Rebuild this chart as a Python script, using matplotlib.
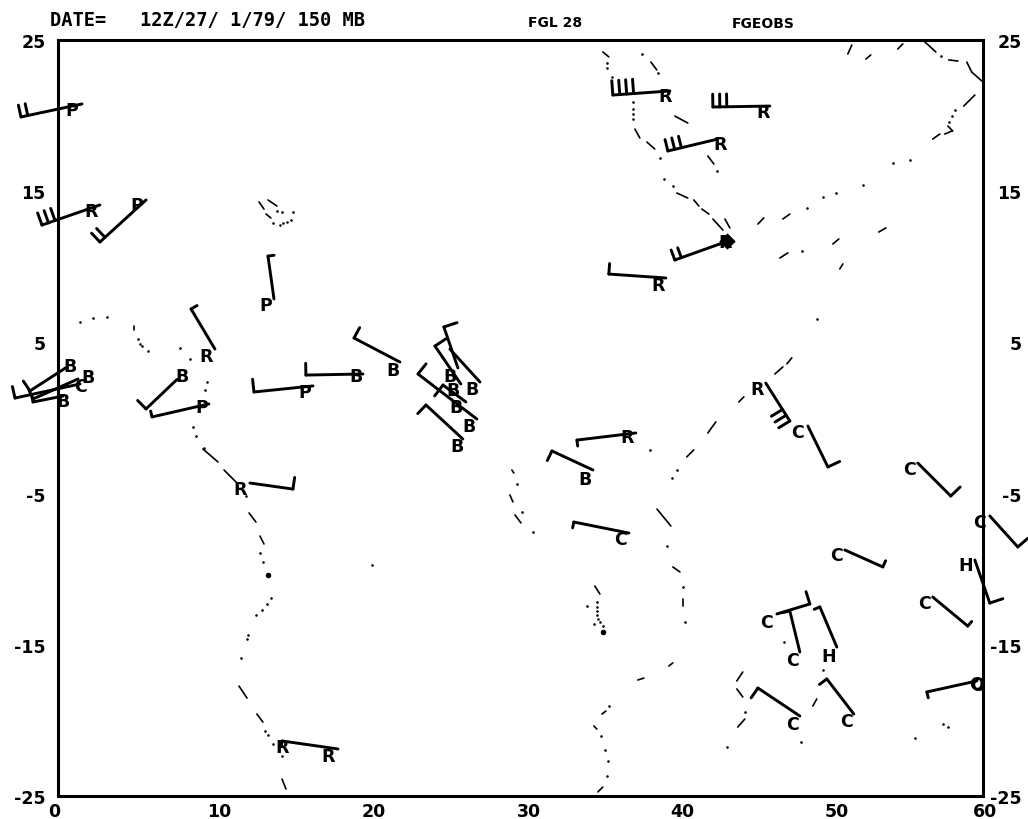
import matplotlib
matplotlib.use("Agg")
import matplotlib.pyplot as plt
import numpy as np
from matplotlib.transforms import ScaledTranslation

plt.rcParams["axes.unicode_minus"] = False

# Axis ticks
x_ticks = [0, 10, 20, 30, 40, 50, 60]
y_ticks = [25, 15, 5, -5, -15, -25]

# Wind observations: plotted end of shaft, far (feathered) end of shaft
tip_lon = [1.56, 2.72, 5.71, 14.01, 10.18, 7.72, 9.79, 16.54, 19.78, 22.18, 12.45,
           27.37, 25.94, 26.13, 26.46, 27.17, 26.26,
           37.48, 34.70, 37.03, 39.43, 43.64, 42.80, 39.69, 46.17, 45.91, 48.64,
           55.77, 60.44, 51.04, 59.47, 56.74, 46.63, 48.12, 50.52, 48.12, 51.62,
           59.60, 18.16, 0.58, 1.30, 1.43, 0.32]
tip_lat = [20.77, 14.09, 14.42, 7.87, 4.56, 2.55, 0.93, 2.12, 2.91, 3.70, -4.30,
           2.38, 3.31, 2.25, 1.06, -0.07, -1.39,
           -0.99, -3.44, -7.61, 9.26, 11.77, 18.45, 21.63, 20.63, 2.31, -0.53,
           -2.98, -6.48, -8.73, -9.39, -11.84, -12.96, -15.48, -15.15, -19.71, -19.58,
           -17.39, -21.89, 3.37, 2.58, 2.25, 1.45]
tail_lon = [-2.40, -1.04, 2.72, 13.62, 8.63, 5.71, 6.10, 12.71, 16.08, 19.20, 15.24,
            25.42, 25.03, 24.45, 24.97, 23.35, 23.87,
            33.66, 32.04, 33.46, 35.73, 40.01, 39.56, 35.99, 42.48, 47.47, 49.94,
            57.91, 62.26, 53.50, 60.44, 59.01, 48.77, 47.47, 49.42, 45.40, 49.87,
            56.36, 14.53, -1.82, -1.62, -2.79, -1.62]
tail_lat = [19.91, 12.76, 11.64, 10.71, 7.21, 0.60, 0.07, 1.72, 2.84, 5.29, -4.70,
            4.56, 6.02, 4.76, 2.18, 2.91, 0.86,
            -1.46, -2.18, -6.88, 9.52, 10.45, 17.66, 21.36, 20.57, -0.20, -3.24,
            -5.16, -8.53, -9.85, -12.24, -13.76, -12.30, -12.76, -12.50, -17.86, -17.26,
            -18.12, -21.36, 1.79, 1.26, 1.32, 1.06]
# Feathers on each shaft
feather_count = [2, 3, 2, 1, 1, 1, 1, 1, 1, 1, 1,
                 0, 1, 1, 1, 1, 1,
                 1, 1, 1, 1, 2, 3, 4, 3, 3, 1,
                 1, 1, 1, 1, 1, 1, 1, 1, 1, 1,
                 1, 1, 1, 1, 1, 1]
feather_side = [1, 1, 1, 1, 1, 1, 1, 1, 1, 1, -1,
                1, 1, 1, -1, 1, -1,
                -1, -1, -1, 1, 1, 1, 1, 1, 1, -1,
                -1, -1, -1, -1, -1, -1, -1, -1, -1, -1,
                -1, -1, 1, 1, 1, 1]
feather_len = [0.80, 0.85, 0.80, 0.40, 0.45, 0.78, 0.40, 0.85, 0.78, 0.78, 0.78,
               0.0, 0.90, 0.85, 0.90, 0.85, 0.78,
               0.40, 0.70, 0.40, 0.70, 0.70, 0.78, 0.95, 0.85, 0.85, 0.85,
               0.85, 0.85, 0.45, 0.90, 0.40, 0.85, 0.45, 0.40, 0.78, 0.60,
               0.40, 0.30, 0.78, 0.65, 0.78, 0.50]

# Station type letters
station_code = ["P", "R", "P", "P", "R", "B", "P", "P", "B", "B", "R",
                "B", "B", "B", "B", "B", "B",
                "R", "B", "C", "R", "R", "R", "R", "R", "R", "C",
                "C", "C", "C", "H", "C", "C", "C", "H", "C", "C",
                "C", "R", "B", "B", "C", "B"]
code_lon = [0.91, 2.14, 5.12, 13.49, 9.60, 8.04, 9.34, 16.02, 19.33, 21.73, 11.80,
            26.85, 25.42, 25.62, 25.81, 26.65, 25.88,
            36.90, 34.18, 36.51, 38.91, 43.26, 42.93, 39.36, 45.72, 45.33, 47.99,
            55.25, 59.79, 50.52, 58.88, 56.23, 45.98, 47.67, 50.00, 47.67, 51.17,
            59.60, 17.53, 0.78, 1.95, 1.43, 0.32]
code_lat = [20.37, 13.69, 14.09, 7.47, 4.10, 2.81, 0.73, 1.72, 2.78, 3.17, -4.70,
            1.92, 2.78, 1.85, 0.73, -0.53, -1.85,
            -1.26, -4.03, -8.00, 8.80, 11.64, 18.12, 21.30, 20.24, 1.92, -0.92,
            -3.37, -6.88, -9.06, -9.72, -12.24, -13.49, -16.00, -15.74, -20.24, -20.04,
            -17.66, -22.36, 3.44, 2.71, 2.12, 1.12]
extra_code = ["R", "O"]
extra_lon = [14.53, 59.60]
extra_lat = [-21.76, -17.60]

# Coastline: isolated dots
dot_lon = [1.43, 2.27, 3.18, 5.19, 5.32, 5.45, 5.84, 7.91, 8.56, 9.66, 9.53, 8.75, 8.95, 9.47,
           12.19, 13.10, 13.29, 13.81, 13.55, 13.23, 12.84, 12.32, 12.26, 11.87, 13.42, 13.62,
           13.94, 14.53, 20.36, 14.20, 14.53, 15.24, 13.94, 14.40, 14.59, 14.85, 15.11,
           35.60, 35.60, 35.93, 37.29, 37.29, 37.29, 37.29, 39.04, 37.87, 38.91, 42.74, 39.30,
           39.88, 48.57, 49.61, 50.45, 52.20, 54.15, 55.25, 48.25, 49.22, 38.39, 40.14, 39.82,
           39.49, 40.53, 40.66, 29.76, 30.09, 30.80, 34.95, 34.95, 34.95, 34.95, 35.02, 34.30,
           34.76, 35.15, 35.34, 35.73, 35.21, 35.47, 35.67, 35.60, 57.26, 58.17, 57.97, 57.78,
           44.55, 43.38, 48.18, 49.61, 47.08, 55.58, 57.39, 57.72]
dot_lat = [6.35, 6.61, 6.68, 5.22, 4.89, 4.76, 4.43, 4.63, 3.90, 2.38, 1.85, -0.60, -1.19, -1.98,
           -5.16, -8.93, -9.52, -11.90, -12.30, -12.69, -13.03, -14.35, -14.61, -15.87, -20.70, -20.96,
           -21.55, -22.34, -9.71, 13.69, 13.62, 13.62, 12.90, 12.76, 12.90, 12.96, 13.10,
           23.48, 23.15, 22.55, 20.90, 20.44, 20.11, 19.78, 17.20, 24.07, 22.82, 16.34, 15.81,
           15.34, 13.89, 14.62, 14.88, 15.41, 16.87, 17.07, 11.05, 6.55, -2.11, -3.44, -3.97,
           -8.47, -11.18, -13.49, -4.36, -6.21, -7.53, -12.16, -12.49, -12.76, -13.02, -13.29, -12.43,
           -13.62, -13.49, -13.75, -19.04, -21.02, -21.95, -22.68, -23.68, 23.94, 20.37, 19.97, 19.58,
           -19.44, -21.75, -21.43, -16.67, -14.81, -21.15, -20.24, -20.44]
blob_lon = [13.62, 35.34]
blob_lat = [-10.37, -14.14]

# Coastline: short dashes
dash_lon1 = [4.93, 9.40, 10.77, 12.39, 13.10, 11.74, 12.90, 14.53, 13.04, 13.62, 13.49, 35.34, 37.42,
             38.20, 38.46, 40.01, 42.15, 40.14, 41.24, 41.76, 42.48, 43.26, 45.40, 47.02, 46.82,
             50.26, 53.24, 50.71, 46.50, 47.28, 44.16, 42.15, 40.79, 38.85, 39.88, 40.53, 29.44,
             29.31, 29.64, 34.82, 39.62, 37.61, 35.28, 34.76, 35.02, 51.23, 52.40, 54.47, 56.23,
             57.78, 58.95, 59.27, 58.75, 57.72, 56.74, 57.52, 44.03, 44.03, 44.09, 48.96]
dash_lat1 = [6.08, -2.05, -3.44, -6.28, -7.81, -17.73, -19.58, -23.88, 14.29, 14.42, 13.49, 24.21, 19.11,
             18.25, 23.54, 19.97, 17.33, 14.88, 14.42, 13.82, 13.16, 13.16, 12.83, 13.16, 10.58,
             11.51, 12.30, 9.86, 2.91, 3.58, 1.06, -0.99, -2.57, -6.02, -9.85, -11.97, -3.44,
             -5.09, -6.41, -11.11, -16.40, -17.33, -19.58, -20.37, -24.73, 24.07, 23.74, 24.40, 24.87,
             23.68, 23.54, 22.88, 20.63, 19.31, 18.45, 18.78, -17.39, -17.92, -20.44, -19.05]
dash_lon2 = [4.93, 10.38, 11.54, 12.84, 13.36, 12.26, 13.29, 14.79, 13.36, 14.20, 13.81, 35.73, 37.74,
             38.71, 38.84, 40.85, 42.54, 40.85, 41.57, 42.22, 43.13, 43.58, 45.78, 47.47, 47.34,
             50.65, 53.70, 50.91, 47.02, 47.60, 44.49, 42.67, 41.24, 39.75, 40.34, 40.53, 29.57,
             29.51, 30.03, 35.15, 39.88, 38.00, 35.54, 34.95, 35.34, 51.49, 52.72, 54.80, 56.94,
             58.37, 59.27, 59.92, 59.47, 58.04, 57.20, 57.98, 44.42, 44.42, 44.55, 49.22]
dash_lat2 = [5.82, -2.91, -4.23, -6.88, -8.33, -18.52, -20.11, -24.54, 13.82, 14.02, 13.23, 23.88, 18.52,
             17.79, 23.02, 19.51, 16.80, 14.55, 14.02, 13.49, 12.43, 12.57, 13.23, 13.49, 10.92,
             11.84, 12.57, 10.19, 3.38, 3.98, 1.40, -0.26, -2.11, -7.14, -10.18, -12.43, -3.64,
             -5.55, -6.94, -11.64, -16.20, -17.20, -19.38, -20.57, -24.41, 24.67, 24.01, 24.74, 24.21,
             23.61, 22.88, 22.29, 21.36, 18.98, 18.78, 18.98, -16.80, -18.45, -19.91, -18.58]

title_left = "DATE=   12Z/27/ 1/79/ 150 MB"
title_mid = "FGL 28"
title_right = "FGEOBS"

W, H = 1028, 820
fig = plt.figure(figsize=(W / 100, H / 100), dpi=100)
ax = fig.add_axes([58 / W, 1 - 797 / H, 925 / W, 756 / H])
ax.set_xlim(0, 60)
ax.set_ylim(-25, 25)

FS = 12.5
ax.set_xticks(x_ticks)
ax.set_yticks(y_ticks)
ax.tick_params(length=0, labelsize=FS, pad=4)
ax.tick_params(axis="y", left=False, right=False, labelleft=True, labelright=True, pad=9)
for lab in ax.get_xticklabels() + ax.get_yticklabels():
    lab.set_fontweight("bold")

# Per-label shift of the bottom labels, in pixels, as in the scan
x_shift = [-4, 7, 7, 8, 8, 8, 2]
for lab, dx in zip(ax.get_xticklabels(), x_shift):
    lab.set_transform(lab.get_transform() + ScaledTranslation(dx / 100, 0, fig.dpi_scale_trans))

for t in ax.yaxis.get_major_ticks():
    t.label2.set_fontweight("bold")
    t.label2.set_ha("right")
    t.label2.set_fontsize(FS)
    t.label2.set_transform(t.label2.get_transform() + ScaledTranslation(26 / 100, 0, fig.dpi_scale_trans))

for s in ax.spines.values():
    s.set_linewidth(2.2)
    s.set_color("black")

# Coastline
ax.scatter(dot_lon, dot_lat, s=3.5, color="black", linewidths=0, zorder=2)
ax.scatter(blob_lon, blob_lat, s=16, color="black", linewidths=0, zorder=2)
for a, b, c, d in zip(dash_lon1, dash_lat1, dash_lon2, dash_lat2):
    ax.plot([a, c], [b, d], color="black", lw=1.2, solid_capstyle="round", zorder=2)

# Wind shafts and feathers
SPACING = 0.45
for x0, y0, x1, y1, n, side, flen in zip(tip_lon, tip_lat, tail_lon, tail_lat,
                                        feather_count, feather_side, feather_len):
    ax.plot([x0, x1], [y0, y1], color="black", lw=2.1, clip_on=False,
            solid_capstyle="round", zorder=3)
    ux, uy = x1 - x0, y1 - y0
    norm = np.hypot(ux, uy)
    ux, uy = ux / norm, uy / norm
    for i in range(n):
        bx, by = x1 - i * SPACING * ux, y1 - i * SPACING * uy
        ax.plot([bx, bx + side * uy * flen], [by, by - side * ux * flen],
                color="black", lw=2.1, clip_on=False, solid_capstyle="round", zorder=3)

# Heavy marker at the arrow-like station
ax.scatter([43.40], [11.72], s=70, marker="D", color="black", linewidths=0, zorder=3)

# Station letters
for c, x, y in zip(station_code + extra_code, code_lon + extra_lon, code_lat + extra_lat):
    ax.text(x, y, c, fontsize=FS, fontweight="bold", ha="center", va="center",
            clip_on=False, zorder=4)

fig.text(50 / W, 1 - 20 / H, title_left, fontsize=13.5, fontweight="bold",
         family="DejaVu Sans Mono", ha="left", va="center")
fig.text(555 / W, 1 - 23 / H, title_mid, fontsize=10, fontweight="bold", ha="center", va="center")
fig.text(763 / W, 1 - 24 / H, title_right, fontsize=10, fontweight="bold", ha="center", va="center")

fig.savefig("out.png", dpi=100)
